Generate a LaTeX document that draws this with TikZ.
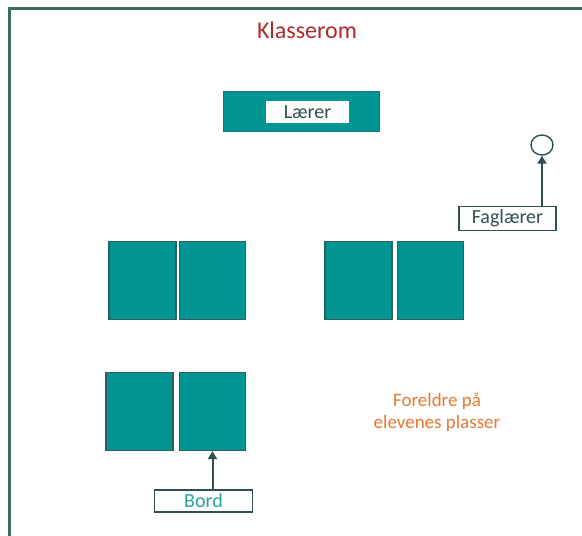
\documentclass[tikz,border=0pt]{standalone}
\usepackage{fontspec}
\setmainfont{Carlito}
\usetikzlibrary{arrows.meta,shapes.geometric}
\definecolor{framegreen}{HTML}{3E6B60}
\definecolor{deskteal}{HTML}{009590}
\definecolor{deskedge}{HTML}{2E5E60}
\definecolor{slate}{HTML}{2F4F52}
\definecolor{roomred}{HTML}{B0282A}
\definecolor{parentorange}{HTML}{E8772E}
\definecolor{bordteal}{HTML}{2AA39E}
\tikzset{
  desk/.style={draw=deskedge, line width=1.2pt, fill=deskteal},
  labelbox/.style={draw=slate, line width=1.2pt, fill=white, inner sep=0pt, font=\fontsize{20}{22}\selectfont},
  pointer/.style={draw=slate, line width=2pt, -{Triangle[length=8pt,width=9pt]}},
}
\begin{document}
\begin{tikzpicture}[x=1pt,y=-1pt]
\useasboundingbox (0,0) rectangle (582,536);
% room outline (open to the right and bottom)
\draw[framegreen, line width=2.6pt] (9.5,537) -- (9.5,8.5) -- (583,8.5);
\node[text=roomred, font=\fontsize{24}{28}\selectfont] (room) at (307,30) {Klasserom};
% teacher's desk
\node[draw=deskedge!60!deskteal, line width=0.8pt, fill=deskteal, minimum width=156pt, minimum height=40pt, inner sep=0pt] (teacherdesk) at (301,111) {};
\node[fill=white, minimum width=83pt, minimum height=22pt, inner sep=0pt, text=slate, font=\fontsize{20}{22}\selectfont] (teacher) at (307.5,112) {Lærer};
% subject teacher
\node[draw=slate, line width=1.4pt, ellipse, minimum width=22pt, minimum height=20pt, inner sep=0pt] (subj) at (542,145) {};
\node[labelbox, minimum width=97pt, minimum height=24pt, text=slate] (faglaerer) at (507.5,218.5) {Faglærer};
\draw[pointer] (faglaerer.north -| subj.south) -- (subj.south);
% pupils' desks
\node[desk, minimum width=67pt, minimum height=78pt, inner sep=0pt] (d1) at (142.5,280.5) {};
\node[desk, minimum width=66pt, minimum height=78pt, inner sep=0pt] (d2) at (212.5,280.5) {};
\node[desk, minimum width=67pt, minimum height=78pt, inner sep=0pt] (d3) at (358.5,280.5) {};
\node[desk, minimum width=66pt, minimum height=78pt, inner sep=0pt] (d4) at (430.5,280.5) {};
\node[desk, minimum width=67pt, minimum height=78pt, inner sep=0pt] (d5) at (139.5,411.5) {};
\node[desk, minimum width=66pt, minimum height=78pt, inner sep=0pt] (d6) at (212.5,411.5) {};
% desk label
\node[labelbox, minimum width=98pt, minimum height=22pt, text=bordteal] (bord) at (203.5,501) {Bord};
\draw[pointer] (bord.north -| d6.south) -- (d6.south);
% parents note
\node[text=parentorange, align=center, inner sep=0pt, font=\fontsize{19}{21.5}\selectfont] (parents) at (437,412.5) {Foreldre på\\elevenes plasser};
\end{tikzpicture}
\end{document}
